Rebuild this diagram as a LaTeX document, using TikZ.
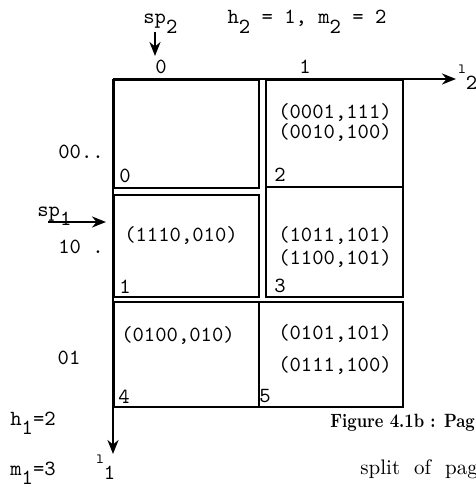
\documentclass[tikz,border=0pt]{standalone}
\usepackage{fontspec}
\usetikzlibrary{arrows.meta}
\newcommand\lowsub[1]{\raisebox{-0.45em}{#1}}
\newcommand\smallell{\raisebox{0.3em}{\fontsize{7}{8}\selectfont l}}
\begin{document}
\begin{tikzpicture}[x=0.5pt,y=-0.5pt,
  cell/.style 2 args={draw,line width=1.2pt,anchor=north west,inner sep=0pt,
    minimum width=#1*0.5pt,minimum height=#2*0.5pt},
  tt/.style={font=\fontsize{10.8}{12}\selectfont\ttfamily,inner sep=0pt},
  ax/.style={line width=1.3pt,-{Stealth[length=7pt,width=5.5pt]}},
  capb/.style={font=\fontsize{9.6}{11}\selectfont\bfseries,anchor=base west,inner sep=0pt},
  capr/.style={font=\fontsize{10.5}{12}\selectfont,anchor=base west,inner sep=0pt}]
\useasboundingbox (0,0) rectangle (476,487);
% cells
\node[cell={145}{108}] (c0) at (113,79) {};
\node[cell={145}{102}] (c1) at (113,194) {};
\node[cell={137}{107}] (c2) at (265,79) {};
\node[cell={137}{110}] (c3) at (265,186) {};
\node[cell={145}{105}] (c4) at (113,301) {};
\node[cell={144}{105}] (c5) at (258,301) {};
% axes
\coordinate (o) at (113,79);
\coordinate (xe) at (456,79);
\coordinate (ye) at (113,454);
\draw[ax] (o) -- (xe);
\draw[ax] (o) -- (ye);
\node[tt,anchor=base west] (l2) at (458,80) {\smallell\lowsub{2}};
\node[tt,anchor=base west] (l1) at (96,470) {\smallell\lowsub{1}};
% top labels
\node[tt,anchor=base west] (sp2) at (143,24) {sp\lowsub{2}};
\coordinate (sp2a) at (155,32);
\coordinate (sp2b) at (155,56);
\draw[ax] (sp2a) -- (sp2b);
\node[tt,anchor=base] (h2) at (307,24) {h\lowsub{2} = 1, m\lowsub{2} = 2};
\node[tt] (k0) at (161,67) {0};
\node[tt] (k1) at (305,67) {1};
% left labels
\node[tt] (r00) at (81,152) {00..};
\node[tt] (r10) at (81,247) {10 .};
\node[tt] (r01) at (69,358) {01};
\node[tt,anchor=base west] (sp1) at (37,216) {sp\lowsub{1}};
\coordinate (sp1a) at (48,222);
\coordinate (sp1b) at (106,222);
\draw[ax] (sp1a) -- (sp1b);
\node[tt,anchor=base west] (h1) at (10,425) {h\lowsub{1}=2};
\node[tt,anchor=base west] (m1) at (10,475) {m\lowsub{1}=3};
% cell contents
\node[tt] (n0) at (125,176) {0};
\node[tt] (t2a) at (335,113) {(0001,111)};
\node[tt] (t2b) at (335,133) {(0010,100)};
\node[tt] (n2) at (280,175) {2};
\node[tt] (t1a) at (181,236) {(1110,010)};
\node[tt] (n1) at (125,287) {1};
\node[tt] (t3a) at (335,236) {(1011,101)};
\node[tt] (t3b) at (335,259) {(1100,101)};
\node[tt] (n3) at (280,286) {3};
\node[tt] (t4a) at (178,336) {(0100,010)};
\node[tt] (n4) at (124,397) {4};
\node[tt] (t5a) at (335,334) {(0101,101)};
\node[tt] (t5b) at (335,366) {(0111,100)};
\node[tt] (n5) at (265,396) {5};
% caption
\node[capb] (cap1) at (330,427) {\scalebox{0.85}[1]{Figure 4.1b : Pag}};
\node[capr] (cap2) at (360,474) {split\hskip7pt of\hskip7pt pag};
\end{tikzpicture}
\end{document}
